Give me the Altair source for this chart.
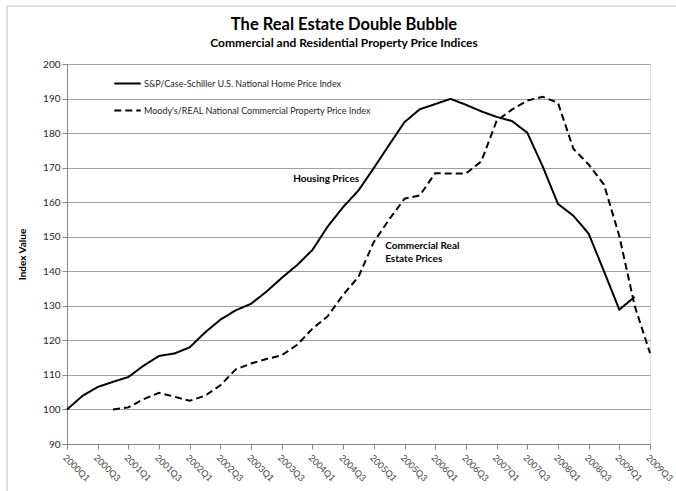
import altair as alt
import pandas as pd

quarters = [f"{y}Q{q}" for y in range(2000, 2010) for q in range(1, 5)][:39]

housing = [100, 103.9, 106.5, 108.0, 109.4, 112.7, 115.5, 116.2, 118.0, 122.3,
           126.0, 128.7, 130.6, 134.1, 138.1, 141.8, 146.2, 153.0, 158.6, 163.4,
           169.9, 176.6, 183.2, 186.9, 188.4, 189.9, 188.2, 186.3, 184.7, 183.5,
           180.1, 170.4, 159.5, 156.1, 150.9, 140.0, 128.9, 132.6, None]

commercial = [None, None, None, 100.0, 100.6, 103.0, 104.8, 103.7, 102.5, 104.0,
              107.0, 111.6, 113.3, 114.6, 115.7, 118.7, 123.4, 127.0, 133.2, 138.4,
              148.5, 155.0, 161.0, 162.0, 168.4, 168.3, 168.3, 171.8, 183.5, 186.8,
              189.4, 190.5, 188.8, 175.5, 170.9, 165.1, 150.2, 130.0, 116.3]

series_names = ["S&P/Case-Schiller U.S. National Home Price Index",
                "Moody's/REAL National Commercial Property Price Index"]

title_text = "The Real Estate Double Bubble"
subtitle_text = "Commercial and Residential Property Price Indices"

rows = []
for i, q in enumerate(quarters):
    if housing[i] is not None:
        rows.append({"quarter": q, "value": housing[i], "series": series_names[0]})
    if commercial[i] is not None:
        rows.append({"quarter": q, "value": commercial[i], "series": series_names[1]})
df = pd.DataFrame(rows)

FONT = "Lato"

x_enc = alt.X("quarter:O", sort=quarters,
              scale=alt.Scale(type="point", padding=0),
              axis=alt.Axis(values=quarters[::2], labelAngle=45, labelAlign="left",
                            labelBaseline="top", labelFontSize=9, labelColor="#404040",
                            labelFont=FONT, labelPadding=4, tickSize=5, tickColor="#868686",
                            domainColor="#868686", grid=False, title=None))
y_enc = alt.Y("value:Q", scale=alt.Scale(domain=[90, 200], nice=False, zero=False),
              axis=alt.Axis(values=list(range(90, 201, 10)), labelFontSize=10,
                            labelColor="#262626", labelFont=FONT, tickSize=5,
                            tickColor="#868686", domainColor="#868686",
                            gridColor="#a0a0a0", title="Index Value",
                            titleFont=FONT, titleFontSize=10, titleFontWeight="bold",
                            titleColor="#000000", titleX=-40, titleY=190))

lines = alt.Chart(df).mark_line(color="black", strokeWidth=2).encode(
    x=x_enc,
    y=y_enc,
    strokeDash=alt.StrokeDash(
        "series:N",
        scale=alt.Scale(domain=series_names, range=[[1, 0], [7, 4]]),
        legend=alt.Legend(orient="none", legendX=46, legendY=5, title=None,
                          symbolType="stroke", symbolSize=700, symbolStrokeWidth=2,
                          symbolStrokeColor="black", labelFont=FONT, labelFontSize=9,
                          labelColor="#262626", rowPadding=7, labelOffset=2,
                          labelLimit=0),
    ),
    detail="series:N",
)

ann_df = pd.DataFrame({
    "quarter": ["2003Q4", "2005Q2", "2005Q2"],
    "value": [166.6, 147.3, 143.5],
    "text": ["Housing Prices", "Commercial Real", "Estate Prices"],
})
ann = alt.Chart(ann_df).mark_text(font=FONT, fontSize=10, fontWeight="bold",
                                   align="left", color="black", dx=-4).encode(
    x=x_enc, y=y_enc, text="text:N")

frame = alt.Chart(pd.DataFrame({"a": [0]})).mark_rect(
    fill=None, stroke="#d6d6d6", strokeWidth=1.5).encode(
    x=alt.value(-60), x2=alt.value(700), y=alt.value(-58), y2=alt.value(600))

titles_df = pd.DataFrame({"t": [title_text, subtitle_text], "k": ["title", "subtitle"]})
title_mark = alt.Chart(titles_df).transform_filter("datum.k == 'title'").mark_text(
    font=FONT, fontSize=16.5, fontWeight="bold", color="black", align="center",
    baseline="middle").encode(x=alt.value(277), y=alt.value(-39), text="t:N")
subtitle_mark = alt.Chart(titles_df).transform_filter("datum.k == 'subtitle'").mark_text(
    font=FONT, fontSize=12, fontWeight="bold", color="black", align="center",
    baseline="middle").encode(x=alt.value(277), y=alt.value(-21), text="t:N")

chart = alt.layer(frame, lines, ann, title_mark, subtitle_mark).properties(
    width=583, height=380,
    padding={"left": 67, "top": 64, "right": 26, "bottom": 47},
    autosize=alt.AutoSizeParams(type="none"),
).configure_view(stroke=None).configure(background="white")

chart.save("out.html", embed_options={"renderer": "svg", "actions": False})
